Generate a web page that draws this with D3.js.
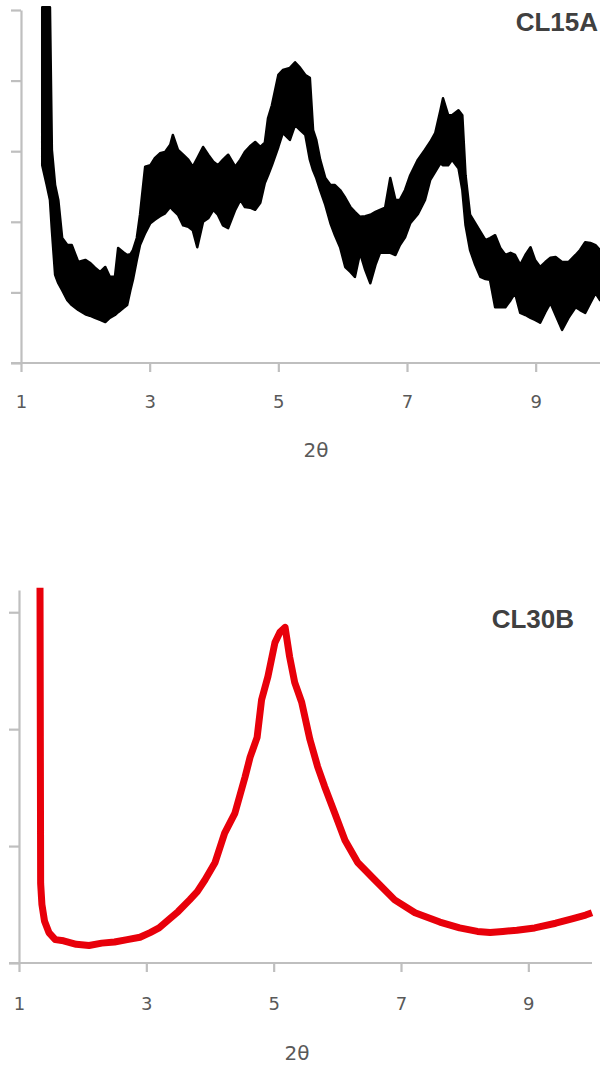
<!DOCTYPE html>
<html>
<head>
<meta charset="utf-8">
<script src="https://cdn.jsdelivr.net/npm/d3@7"></script>
<style>
  body { margin: 0; background: #fff; }
  .axis path, .axis line { stroke: #bfbfbf; stroke-width: 2.2; }
  .axis text { fill: #595959; font-family: "DejaVu Sans", sans-serif; font-size: 18px; }
  .xlabel { fill: #595959; font-family: "DejaVu Sans", sans-serif; font-size: 20px; }
  .title { fill: #404040; font-family: "Liberation Sans", Arial, sans-serif; font-weight: bold; font-size: 26px; }
</style>
</head>
<body>
<div id="chart"></div>
<script>
// tick labels on the 2theta axis
var xTicks = [1, 3, 5, 7, 9];

// CL15A: noisy black trace, read as an upper / lower envelope
var blackTheta = [1.33,1.40,1.45,1.48,1.53,1.58,1.64,1.72,1.79,1.89,
  2.00,2.07,2.15,2.23,2.31,2.38,2.46,2.51,2.59,2.65,
  2.70,2.74,2.80,2.85,2.93,3.01,3.08,3.16,3.24,3.32,
  3.36,3.44,3.52,3.60,3.67,3.74,3.83,3.91,3.99,4.06,
  4.14,4.22,4.33,4.41,4.48,4.56,4.64,4.72,4.79,4.84,
  4.90,5.00,5.07,5.18,5.26,5.34,5.42,5.49,5.54,5.59,
  5.65,5.73,5.81,5.88,5.96,6.04,6.12,6.19,6.27,6.35,
  6.43,6.51,6.58,6.66,6.74,6.82,6.89,6.97,7.05,7.17,
  7.28,7.36,7.44,7.52,7.56,7.64,7.70,7.80,7.86,7.91,
  7.98,8.06,8.14,8.22,8.29,8.37,8.45,8.53,8.61,8.68,
  8.76,8.84,8.92,8.99,9.07,9.15,9.23,9.31,9.41,9.51,
  9.62,9.69,9.77,9.85,9.93,10.0];
var blackHigh = [5.04,5.04,5.04,3.02,2.52,2.31,1.77,1.67,1.67,1.43,
  1.46,1.42,1.35,1.29,1.36,1.22,1.22,1.63,1.57,1.53,
  1.54,1.60,1.77,2.10,2.78,2.80,2.90,2.97,2.99,3.09,
  3.23,3.02,2.95,2.88,2.78,2.90,3.06,2.95,2.85,2.80,
  2.88,2.95,2.78,2.88,2.99,3.07,3.13,3.06,3.12,3.47,
  3.65,4.08,4.15,4.18,4.26,4.18,4.08,4.04,3.30,3.16,
  2.88,2.62,2.52,2.52,2.45,2.34,2.21,2.14,2.07,2.08,
  2.10,2.14,2.17,2.20,2.62,2.31,2.31,2.45,2.66,2.88,
  3.02,3.13,3.26,3.58,3.75,3.51,3.51,3.58,3.51,2.66,
  2.10,1.98,1.86,1.74,1.77,1.81,1.63,1.53,1.56,1.53,
  1.39,1.53,1.64,1.46,1.36,1.43,1.49,1.50,1.43,1.43,
  1.53,1.60,1.71,1.70,1.67,1.60];
var blackLow = [2.80,2.52,2.31,1.88,1.25,1.13,1.03,0.89,0.82,0.75,
  0.69,0.67,0.64,0.61,0.58,0.64,0.68,0.72,0.78,0.82,
  1.03,1.18,1.46,1.67,1.84,1.98,2.03,2.08,2.12,2.21,
  2.17,2.10,1.95,1.93,1.88,1.64,2.00,2.05,2.17,2.10,
  1.95,1.91,2.17,2.31,2.21,2.20,2.17,2.27,2.55,2.66,
  2.80,3.06,3.26,3.16,3.37,3.30,3.23,2.88,2.73,2.62,
  2.45,2.24,1.98,1.81,1.64,1.36,1.29,1.22,1.56,1.32,
  1.13,1.39,1.56,1.56,1.56,1.53,1.67,1.78,1.98,2.11,
  2.31,2.59,2.71,2.83,2.80,2.80,2.88,2.76,2.45,1.95,
  1.60,1.39,1.22,1.19,1.18,0.79,0.79,0.79,0.89,0.99,
  0.71,0.68,0.64,0.61,0.57,0.72,0.85,0.68,0.47,0.64,
  0.79,0.75,0.71,0.85,0.99,0.89];

// CL30B: red trace
var redTheta = [1.33,1.34,1.36,1.40,1.47,1.57,1.7,1.9,2.1,2.3,
  2.5,2.7,2.9,3.06,3.2,3.37,3.5,3.68,3.8,3.92,
  4.08,4.23,4.39,4.55,4.63,4.74,4.81,4.91,5.02,5.10,
  5.18,5.25,5.33,5.44,5.57,5.69,5.80,5.96,6.12,6.32,
  6.59,6.9,7.22,7.61,7.92,8.2,8.4,8.6,8.82,9.1,
  9.43,9.7,9.9,10.0];
var redCounts = [3.21,0.68,0.50,0.36,0.26,0.20,0.19,0.16,0.15,0.17,
  0.18,0.20,0.22,0.26,0.30,0.38,0.44,0.54,0.61,0.71,
  0.86,1.11,1.28,1.59,1.76,1.93,2.25,2.45,2.74,2.83,
  2.87,2.62,2.40,2.23,1.91,1.68,1.51,1.28,1.05,0.86,
  0.71,0.54,0.43,0.35,0.30,0.27,0.26,0.27,0.28,0.30,
  0.34,0.38,0.41,0.43];

var width = 600, height = 1071;

var svg = d3.select("#chart")
    .append("svg")
    .attr("width", width)
    .attr("height", height);

function drawPanel(p) {
    var x = d3.scaleLinear().domain([1, 10]).range([p.left, p.right]);
    var y = d3.scaleLinear().domain([0, p.yMax]).range([p.bottom, p.top]);

    var g = svg.append("g");

    g.append("g")
        .attr("class", "axis")
        .attr("transform", "translate(" + p.left + ",0)")
        .call(d3.axisLeft(y).tickValues(p.yTicks).tickSize(10).tickSizeOuter(0).tickFormat(""));

    var xAxis = g.append("g")
        .attr("class", "axis")
        .attr("transform", "translate(0," + p.bottom + ")")
        .call(d3.axisBottom(x).tickValues(xTicks).tickSize(9).tickSizeOuter(0).tickPadding(p.labelPad));
    xAxis.select(".domain").attr("d", "M" + (p.left - 10) + ",0H" + p.right);

    g.append("text")
        .attr("class", "xlabel")
        .attr("x", p.labelX)
        .attr("y", p.labelY)
        .attr("text-anchor", "middle")
        .text("2θ");

    g.append("text")
        .attr("class", "title")
        .attr("x", p.titleX)
        .attr("y", p.titleY)
        .attr("text-anchor", "end")
        .text(p.title);

    return {x: x, y: y, g: g};
}

// top panel
var topPanel = drawPanel({left: 21, right: 600, top: 10, bottom: 363, yMax: 5,
    yTicks: [0, 1, 2, 3, 4, 5], labelPad: 23, labelX: 316, labelY: 457,
    title: "CL15A", titleX: 598, titleY: 31});

var blackData = blackTheta.map(function(t, i) {
    return {t: t, hi: blackHigh[i], lo: blackLow[i]};
});

topPanel.g.append("path")
    .datum(blackData)
    .attr("d", d3.area()
        .x(function(d) { return topPanel.x(d.t); })
        .y0(function(d) { return topPanel.y(d.lo); })
        .y1(function(d) { return topPanel.y(d.hi); }))
    .style("fill", "#000")
    .style("stroke", "#000")
    .style("stroke-width", 2.5)
    .style("stroke-linejoin", "round");

// bottom panel
var botPanel = drawPanel({left: 19, right: 592, top: 590, bottom: 963, yMax: 3.19,
    yTicks: [0, 1, 2, 3], labelPad: 25, labelX: 297, labelY: 1060,
    title: "CL30B", titleX: 574, titleY: 628});

var redData = redTheta.map(function(t, i) {
    return {t: t, v: redCounts[i]};
});

botPanel.g.append("path")
    .datum(redData)
    .attr("d", d3.line()
        .x(function(d) { return botPanel.x(d.t); })
        .y(function(d) { return botPanel.y(d.v); }))
    .style("fill", "none")
    .style("stroke", "#e8000a")
    .style("stroke-width", 7)
    .style("stroke-linejoin", "round");
</script>
</body>
</html>
